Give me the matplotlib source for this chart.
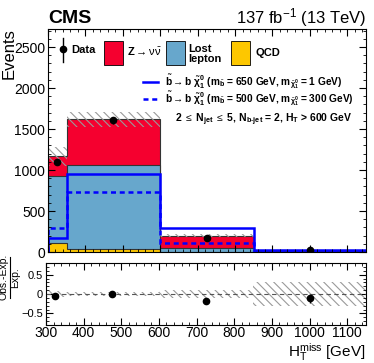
import numpy as np
import matplotlib
matplotlib.use('Agg')
import matplotlib.pyplot as plt
from matplotlib.patches import Rectangle
from matplotlib.lines import Line2D
from matplotlib.ticker import MultipleLocator

plt.rcParams['font.family'] = ['Liberation Sans', 'DejaVu Sans']
plt.rcParams['mathtext.fontset'] = 'custom'
plt.rcParams['mathtext.rm'] = 'Liberation Sans'
plt.rcParams['mathtext.it'] = 'Liberation Sans'
plt.rcParams['mathtext.bf'] = 'Liberation Sans:bold'
plt.rcParams['hatch.linewidth'] = 0.8

# binning in HT miss
edges = [300, 350, 600, 850, 1150]
centers = [325, 475, 725, 1000]

# background stack
qcd = [110, 38, 6, 2]
lost_lepton = [820, 1020, 44, 6]
znunu = [240, 560, 150, 14]
bkg_unc = [115, 90, 22, 7]

# observed
data = [1100, 1605, 170, 24]
data_err = [33, 40, 13, 5]

# signals
sig_650_1 = [168, 950, 290, 30]
sig_500_300 = [290, 728, 106, 14]

# ratio panel
ratio = [-0.06, -0.01, -0.18, -0.11]
ratio_err = [0.03, 0.025, 0.07, 0.12]
ratio_unc = [0.09, 0.05, 0.11, 0.3]

c_z = '#f5002f'
c_ll = '#67a7cc'
c_qcd = '#fdc700'
c_hatch = '#9a9a9a'

fig = plt.figure(figsize=(3.74, 3.63), dpi=100)
W, H = 374, 363
ax = fig.add_axes([48 / W, 1 - 252 / H, 318 / W, 223 / H])
rax = fig.add_axes([46 / W, 1 - 325 / H, 320 / W, 62 / H])

qcd = np.array(qcd)
ll_top = qcd + np.array(lost_lepton)
tot = ll_top + np.array(znunu)
unc = np.array(bkg_unc)

ax.stairs(tot, edges, baseline=ll_top, fill=True, color=c_z)
ax.stairs(ll_top, edges, baseline=qcd, fill=True, color=c_ll)
ax.stairs(qcd, edges, baseline=0, fill=True, color=c_qcd)
for top in (qcd, ll_top, tot):
    ax.stairs(top, edges, color='#333333', lw=0.8)
ax.stairs(tot + unc, edges, baseline=tot - unc, fill=True, facecolor='none',
          edgecolor=c_hatch, hatch='\\\\\\\\', lw=0)

ax.stairs(sig_650_1, edges, color='#0000ff', lw=1.8)
ax.stairs(sig_500_300, edges, color='#0000ff', lw=1.8, ls=(0, (2, 1.5)))

ax.errorbar(centers, data, yerr=data_err, fmt='o', color='black', ms=4.5,
            elinewidth=1, capsize=0)

ax.set_xlim(300, 1150)
ax.set_ylim(0, 2720)
ax.yaxis.set_major_locator(MultipleLocator(500))
ax.yaxis.set_minor_locator(MultipleLocator(100))
ax.xaxis.set_major_locator(MultipleLocator(100))
ax.xaxis.set_minor_locator(MultipleLocator(20))
ax.set_xticklabels([])

rax.stairs(np.array(ratio_unc), edges, baseline=-np.array(ratio_unc), fill=True,
           facecolor='none', edgecolor=c_hatch, hatch='\\\\\\\\', lw=0)
rax.axhline(0, color='#555555', ls=(0, (4, 3)), lw=0.8)
rax.errorbar(centers, ratio, yerr=ratio_err, fmt='o', color='black', ms=4.5,
             elinewidth=1, capsize=0)
rax.set_xlim(300, 1150)
rax.set_ylim(-0.8, 0.8)
rax.yaxis.set_minor_locator(MultipleLocator(0.1))
rax.xaxis.set_major_locator(MultipleLocator(100))
rax.xaxis.set_minor_locator(MultipleLocator(20))
rax.set_yticks([-0.5, 0, 0.5])
rax.set_yticklabels(['\u22120.5', '0', '0.5'])

for a in (ax, rax):
    a.tick_params(which='both', direction='in', top=True, right=True, labelsize=10, pad=2)
    a.tick_params(which='major', length=5)
    a.tick_params(which='minor', length=2.5)
    for s in a.spines.values():
        s.set_linewidth(0.8)
rax.tick_params(axis='y', labelsize=8)
rax.tick_params(axis='x', pad=1)

def fp(x, y):
    return (x / W, 1 - y / H)

# axis titles
fig.text(*fp(9, 28), 'Events', fontsize=12, rotation=90, ha='center', va='top')
fig.text(*fp(4, 277), 'Obs.-Exp.', fontsize=7.5, rotation=90, ha='center', va='center')
fig.add_artist(Line2D([10 / W] * 2, [1 - 257 / H, 1 - 298 / H], color='black', lw=0.8))
fig.text(*fp(15, 278), 'Exp.', fontsize=7.5, rotation=90, ha='center', va='center')
fig.text(*fp(366, 357), r'$\mathrm{H_{T}^{miss}}$ [GeV]', fontsize=11,
         ha='right', va='baseline')

# header texts
fig.text(*fp(48, 23), 'CMS', fontsize=14, fontweight='bold', ha='left', va='baseline')
fig.text(*fp(366, 23), r'137 fb$^{\mathrm{-1}}$ (13 TeV)', fontsize=12,
         ha='right', va='baseline')

# legend
fig.add_artist(Line2D([63 / W, 63 / W], [1 - 38 / H, 1 - 62 / H], color='black', lw=1))
fig.add_artist(Line2D([63 / W], [1 - 49 / H], marker='o', color='black', ms=4.5))
fig.text(*fp(71, 53), 'Data', fontsize=8, fontweight='bold', va='baseline')
for x0, col in ((104, c_z), (166, c_ll), (231, c_qcd)):
    fig.add_artist(Rectangle(fp(x0, 65), 19 / W, 24 / H, facecolor=col,
                             edgecolor='black', lw=0.6))
fig.text(*fp(127, 56), r'Z$\rightarrow\nu\bar{\nu}$', fontsize=8, fontweight='bold',
         va='baseline')
fig.text(*fp(188, 62), 'Lost\nlepton', fontsize=8, fontweight='bold', va='baseline',
         linespacing=1.0)
fig.text(*fp(256, 56), 'QCD', fontsize=8, fontweight='bold', va='baseline')

fig.add_artist(Line2D([143 / W, 158 / W], [1 - 82 / H] * 2, color='#0000ff', lw=1.8))
fig.add_artist(Line2D([143 / W, 158 / W], [1 - 99 / H] * 2, color='#0000ff', lw=1.8,
                      ls=(0, (2, 1.5))))
sig_lbl = (r'$\tilde{\mathbf{b}}\mathbf{\rightarrow b}\ \tilde{\mathbf{\chi}}^{\mathbf{0}}_{\mathbf{1}}$'
           r' (m$_{\tilde{\mathbf{b}}}$ = %d GeV, m$_{\tilde{\mathbf{\chi}}^{\mathbf{0}}_{\mathbf{1}}}$ = %d GeV)')
fig.text(*fp(165, 85), sig_lbl % (650, 1), fontsize=7.3, fontweight='bold', va='baseline')
fig.text(*fp(165, 102), sig_lbl % (500, 300), fontsize=7.3, fontweight='bold', va='baseline')
fig.text(*fp(175, 122),
         r'2 $\leq$ N$_{\mathbf{jet}}$ $\leq$ 5, N$_{\mathbf{b\text{-}jet}}$ = 2, H$_{\mathbf{T}}$ > 600 GeV',
         fontsize=7.5, fontweight='bold', va='baseline')

fig.savefig('out.png', dpi=100)
